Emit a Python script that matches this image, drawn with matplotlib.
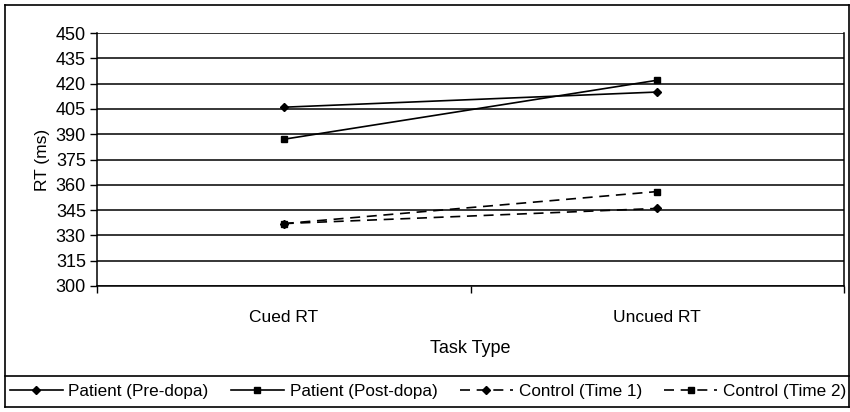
import matplotlib
matplotlib.use("Agg")
import matplotlib.pyplot as plt
from matplotlib.lines import Line2D

plt.rcParams['font.family'] = ['Liberation Sans', 'DejaVu Sans']

tasks = ['Cued RT', 'Uncued RT']
pre_dopa = [406, 415]
post_dopa = [387, 422]
control_t1 = [337, 346]
control_t2 = [337, 356]
yticks = list(range(300, 451, 15))

fig = plt.figure(figsize=(8.5, 4.12), dpi=100)
ax = fig.add_axes([97/850, 1-286/412, (844-97)/850, (286-33)/412])

x = [0, 1]
dash = (0, (6, 4))
ax.plot(x, pre_dopa, color='black', lw=1.2, marker='D', ms=4, label='Patient (Pre-dopa)')
ax.plot(x, post_dopa, color='black', lw=1.2, marker='s', ms=4.5, label='Patient (Post-dopa)')
ax.plot(x, control_t1, color='black', lw=1.2, ls=dash, marker='D', ms=4, label='Control (Time 1)')
ax.plot(x, control_t2, color='black', lw=1.2, ls=dash, marker='s', ms=4.5, label='Control (Time 2)')

ax.set_xlim(-0.5, 1.5)
ax.set_ylim(300, 450)
ax.set_yticks(yticks)
ax.tick_params(axis='y', labelsize=13, length=5, width=1, direction='out', pad=3)
ax.set_xticks([-0.5, 0.5, 1.5])
ax.set_xticklabels([])
ax.set_xticks(x, minor=True)
ax.set_xticklabels(tasks, minor=True, fontsize=12.5)
ax.tick_params(axis='x', which='major', length=5, width=1, direction='out')
ax.tick_params(axis='x', which='minor', length=0, pad=17)
ax.yaxis.grid(True, color='black', lw=1.1)
ax.set_axisbelow(True)
ax.spines['top'].set_visible(False)
for s in ['left', 'bottom', 'right']:
    ax.spines[s].set_linewidth(1.1)
ax.set_ylabel('RT (ms)', fontsize=12.5, labelpad=4)
ax.set_xlabel('Task Type', fontsize=13, labelpad=11)

# frame around chart and legend box
def fline(x0, y0, x1, y1):
    fig.add_artist(Line2D([x0/850, x1/850], [1-y0/412, 1-y1/412], color='black', lw=1.2))

fline(5, 5, 849, 5)
fline(5, 5, 5, 407)
fline(849, 5, 849, 407)
fline(5, 376, 849, 376)
fline(5, 407, 849, 407)

fig.legend(loc='center', bbox_to_anchor=(428/850, 1-391.5/412), ncol=4, frameon=False,
           fontsize=12.3, handlelength=3.1, handletextpad=0.35, columnspacing=1.3,
           borderaxespad=0, borderpad=0)

fig.savefig('out.png', dpi=100)
